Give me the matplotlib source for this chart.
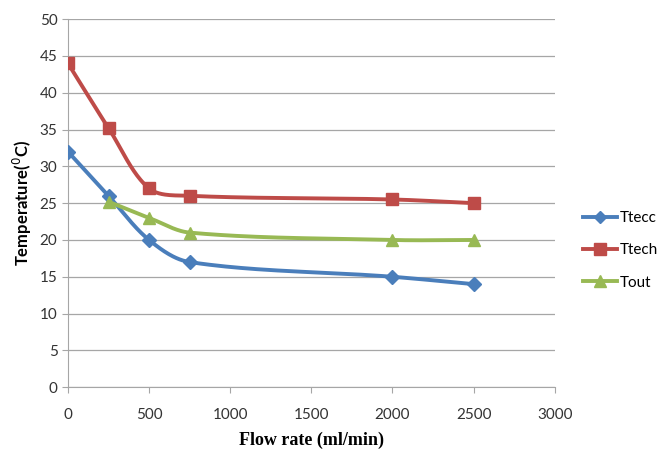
import numpy as np
import matplotlib.pyplot as plt
from matplotlib.lines import Line2D

flow = [0, 250, 500, 750, 2000, 2500]
ttecc = [32, 26, 20, 17, 15, 14]
ttech = [44, 35.2, 27, 26, 25.5, 25]
flow_out = [250, 500, 750, 2000, 2500]
tout = [25.2, 23, 21, 20, 20]

XMAX, YMAX = 3000, 50


def smooth(x, y, n=40):
    # smoothed line like Excel: chord-length hermite curve in screen-like units
    sx = np.asarray(x, float) / XMAX * 487
    sy = np.asarray(y, float) / YMAX * 368
    p = np.column_stack([sx, sy])
    d = np.linalg.norm(np.diff(p, axis=0), axis=1)
    m = np.zeros_like(p)
    for i in range(len(p)):
        if i == 0:
            m[i] = (p[1] - p[0]) / d[0]
        elif i == len(p) - 1:
            m[i] = (p[-1] - p[-2]) / d[-1]
        else:
            m[i] = (p[i + 1] - p[i - 1]) / (d[i - 1] + d[i])
    out = []
    t = np.linspace(0, 1, n)[:, None]
    for i in range(len(p) - 1):
        c1 = p[i] + m[i] * d[i] / 3
        c2 = p[i + 1] - m[i + 1] * d[i] / 3
        b = (1 - t)**3 * p[i] + 3 * (1 - t)**2 * t * c1 + 3 * (1 - t) * t**2 * c2 + t**3 * p[i + 1]
        out.append(b)
    out = np.vstack(out)
    return out[:, 0] / 487 * XMAX, out[:, 1] / 368 * YMAX


plt.rcParams['font.family'] = ['Lato', 'DejaVu Sans']

fig = plt.figure(figsize=(6.66, 4.55), dpi=100)
ax = fig.add_axes([0.102, 0.149, 0.731, 0.809])

series = [
    (flow, ttecc, '#4A7EBB', 'D', 7, 'Ttecc'),
    (flow, ttech, '#BE4B48', 's', 9, 'Ttech'),
    (flow_out, tout, '#98B954', '^', 9, 'Tout'),
]
handles = []
for xs, ys, col, mk, ms, lab in series:
    sx, sy = smooth(xs, ys)
    ax.plot(sx, sy, color=col, lw=2.8, zorder=3)
    ax.plot(xs, ys, ls='none', marker=mk, ms=ms, color=col, zorder=4)
    handles.append(Line2D([], [], color=col, lw=2.8, marker=mk, ms=ms - 1, label=lab))

ax.set_xlim(0, XMAX)
ax.set_ylim(0, YMAX)
ax.set_xticks(range(0, 3001, 500))
ax.set_yticks(range(0, 51, 5))
ax.grid(axis='y', color='#A6A6A6', lw=0.9)
ax.set_axisbelow(True)
for s in ['top', 'right']:
    ax.spines[s].set_visible(False)
ax.spines['left'].set_color('#A6A6A6')
ax.spines['bottom'].set_color('#A6A6A6')
ax.tick_params(axis='both', colors='#A6A6A6', labelcolor='#333333', labelsize=11, length=4)
ax.tick_params(axis='x', pad=11)

ax.set_xlabel('Flow rate (ml/min)', family='Liberation Serif', fontweight='bold', fontsize=13, labelpad=7)
ax.set_ylabel('Temperature($^{0}$C)', fontweight='bold', fontsize=12, labelpad=4)

fig.legend(handles=handles, loc='center left', bbox_to_anchor=(0.855, 0.45), frameon=False,
           fontsize=11, handlelength=2.2, labelspacing=1.2, handletextpad=0.2)

fig.savefig('out.png', dpi=100)
